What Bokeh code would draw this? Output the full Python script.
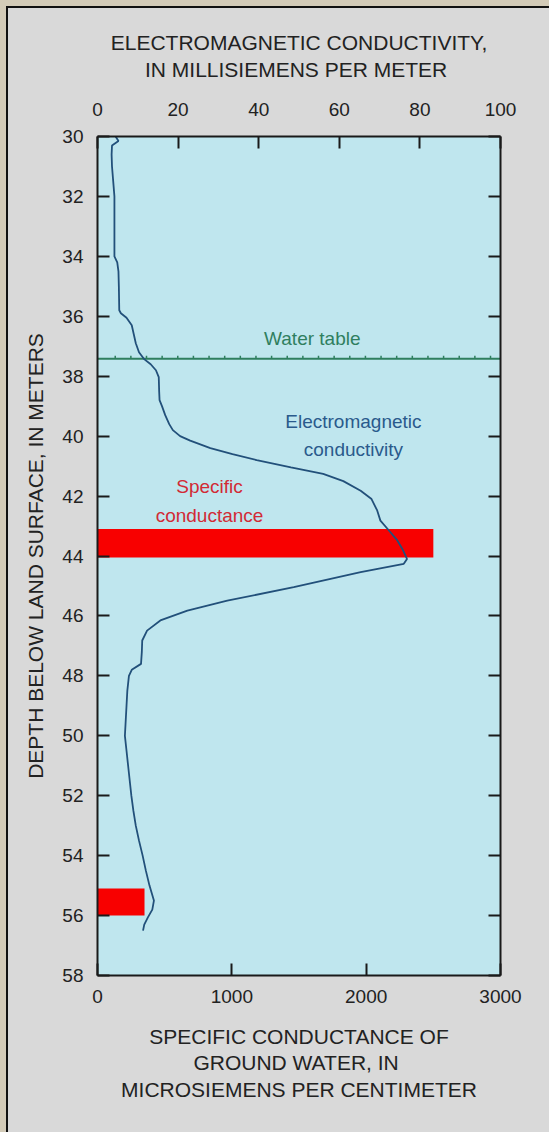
from bokeh.plotting import figure
from bokeh.models import (Range1d, LinearAxis, FixedTicker, Label, Title,
                          GlobalInlineStyleSheet)
from bokeh.embed import file_html
from bokeh.resources import INLINE
import numpy as np

# ---------------- data ----------------
depth_m = [30.0, 30.15, 30.3, 30.6, 31.0, 31.5, 32.0, 33.0, 34.0, 34.2, 34.5,
           35.0, 35.8, 35.9, 36.05, 36.3, 36.6, 36.9, 37.2, 37.42, 37.6, 37.8,
           38.03, 38.5, 38.8, 39.0, 39.3, 39.6, 39.8, 40.0, 40.15, 40.4, 40.6,
           40.8, 41.04, 41.26, 41.5, 41.82, 42.1, 42.48, 42.82, 43.1, 43.48,
           43.8, 44.1, 44.26, 44.54, 45.04, 45.49, 45.82, 46.15, 46.49, 46.82,
           47.2, 47.6, 47.8, 48.0, 48.5, 49.0, 49.5, 50.0, 50.5, 51.0, 51.5,
           52.0, 52.5, 53.0, 53.5, 54.0, 54.5, 55.0, 55.5, 55.8, 56.06, 56.3,
           56.5]
em_conductivity = [4.5, 5.2, 3.6, 3.5, 3.6, 3.9, 4.2, 4.2, 4.2, 4.9, 5.2,
                   5.3, 5.4, 5.8, 7.2, 8.5, 9.0, 9.5, 10.3, 11.5, 13.2, 14.5,
                   15.2, 15.3, 15.4, 16.0, 16.8, 17.8, 18.7, 20.5, 23.0, 28.0,
                   33.5, 39.5, 48.0, 56.0, 61.0, 65.3, 68.0, 69.4, 70.2, 72.0,
                   74.4, 75.8, 76.8, 76.0, 65.3, 48.7, 32.2, 22.3, 15.6, 12.3,
                   11.1, 11.0, 10.8, 8.5, 7.8, 7.4, 7.2, 7.0, 6.8, 7.2, 7.6,
                   8.0, 8.4, 8.9, 9.5, 10.3, 11.2, 12.0, 12.9, 14.0, 13.6,
                   12.5, 11.6, 11.3]

sc_top = [43.1, 55.1]
sc_bottom = [44.05, 56.0]
sc_value = [2500, 350]

water_table_depth = 37.42

sc_ticks = [0, 1000, 2000, 3000]
em_ticks = [0, 20, 40, 60, 80, 100]
depth_ticks = list(range(30, 59, 2))

# ---------------- style ----------------
FONT = "Liberation Sans"
TXT = "#222222"
AX = "#1a1a1a"

p = figure(width=533, height=1116,
           x_range=Range1d(0, 3000), y_range=Range1d(58, 30),
           output_backend="svg", toolbar_location=None,
           min_border_left=89, min_border_right=41,
           min_border_top=128, min_border_bottom=149,
           background_fill_color="#BFE6EE", border_fill_color="#D9D9D9",
           outline_line_color=None)
p.grid.visible = False
p.extra_x_ranges = {"em": Range1d(0, 100)}

p.stylesheets = [GlobalInlineStyleSheet(css="""
html { background: #D3CBB8; }
body { background: #D9D9D9; margin: 6px 0 0 6px; padding: 0;
       border-top: 2px solid #111; border-left: 2px solid #111;
       min-height: 1124px; box-sizing: border-box; overflow: hidden; }
""")]


def style_axis(ax, size="19px"):
    ax.axis_line_color = AX
    ax.axis_line_width = 2
    ax.major_tick_line_color = AX
    ax.major_tick_line_width = 2
    ax.major_tick_in = 12
    ax.major_tick_out = 0
    ax.minor_tick_line_color = None
    ax.major_label_text_font = FONT
    ax.major_label_text_font_size = size
    ax.major_label_text_color = TXT
    ax.axis_label_text_font = FONT
    ax.axis_label_text_font_size = "21px"
    ax.axis_label_text_font_style = "normal"
    ax.axis_label_text_color = TXT
    ax.axis_label_text_line_height = 1.17


# bottom axis
xb = p.xaxis[0]
style_axis(xb)
xb.ticker = FixedTicker(ticks=sc_ticks)
xb.major_label_standoff = 14
xb.axis_label = "SPECIFIC CONDUCTANCE OF\nGROUND WATER,  IN\nMICROSIEMENS PER CENTIMETER"
xb.axis_label_standoff = 19

# left axis
yl = p.yaxis[0]
style_axis(yl)
yl.ticker = FixedTicker(ticks=depth_ticks)
yl.major_label_standoff = 14

# top axis
xt = LinearAxis(x_range_name="em")
style_axis(xt)
xt.ticker = FixedTicker(ticks=em_ticks)
xt.major_label_standoff = 21
xt.axis_label = "ELECTROMAGNETIC CONDUCTIVITY,\nIN  MILLISIEMENS PER METER"
xt.axis_label_standoff = 19
p.add_layout(xt, "above")

# right axis
yr = LinearAxis()
style_axis(yr)
yr.ticker = FixedTicker(ticks=depth_ticks)
yr.major_label_text_color = None
yr.axis_label = None
p.add_layout(yr, "right")

# y-axis title
p.add_layout(Title(text="DEPTH BELOW LAND SURFACE, IN METERS", align="center",
                   standoff=25, text_font=FONT,
                   text_font_size="21px", text_font_style="normal",
                   text_color=TXT), "left")

# specific conductance bars
p.quad(left=0, right=sc_value, top=sc_top, bottom=sc_bottom,
       fill_color="#F80000", line_color=None)

# water table line with small hachures
p.line(x=[0, 100], y=[water_table_depth, water_table_depth],
       x_range_name="em", line_color="#2F7F5F", line_width=2)
hx = np.arange(4.4, 100, 3.88)
p.segment(x0=hx, x1=hx, y0=water_table_depth, y1=water_table_depth - 0.1,
          x_range_name="em", line_color="#2F7F5F", line_width=1.5)

# EM conductivity curve
p.line(x=em_conductivity, y=depth_m, x_range_name="em",
       line_color="#22507A", line_width=1.8)

# annotations
p.add_layout(Label(x=53.3, y=36.74, x_range_name="em", text="Water table",
                   text_font=FONT, text_font_size="19px",
                   text_color="#2F7F5F", text_align="center",
                   text_baseline="middle"))
p.add_layout(Label(x=63.5, y=39.98, x_range_name="em",
                   text="Electromagnetic\nconductivity",
                   text_font=FONT, text_font_size="19px",
                   text_color="#2A5A8C", text_align="center",
                   text_baseline="middle", text_line_height=1.37))
p.add_layout(Label(x=834, y=42.17, text="Specific\nconductance",
                   text_font=FONT, text_font_size="19px",
                   text_color="#D22A35", text_align="center",
                   text_baseline="middle", text_line_height=1.37))

open("out.html", "w").write(file_html(p, INLINE))
